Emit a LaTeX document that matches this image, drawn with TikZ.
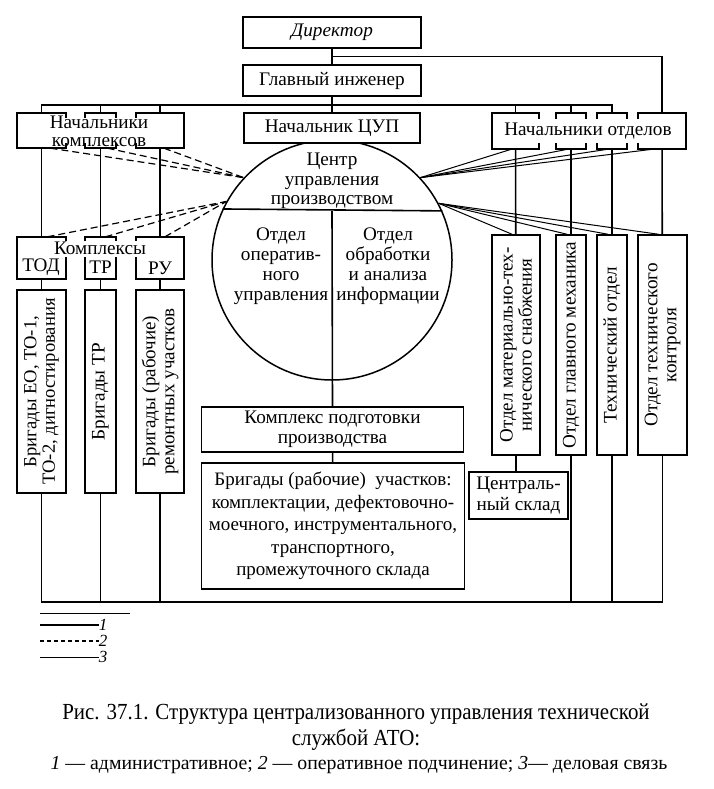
\documentclass[tikz,border=0pt]{standalone}
\usepackage{fontspec}
\setmainfont{Liberation Serif}
\newfontfamily\capfont[FakeStretch=0.91]{Liberation Serif}
\usetikzlibrary{calc}

\begin{document}
\begin{tikzpicture}[x=1pt,y=-1pt,
    blk/.style={draw,line width=1.5pt,fill=white,inner sep=0pt,align=center,
                font=\fontsize{19.2}{20.5}\selectfont},
    part/.style={inner sep=0pt,align=center,font=\fontsize{19.2}{19.5}\selectfont},
    adm/.style={line width=1.6pt},
    oper/.style={line width=1.2pt,dash pattern=on 7pt off 4pt},
    dl/.style={line width=1pt}]
  \useasboundingbox (0,0) rectangle (713,789);

    % circle of the centre, drawn first
    \node[circle,draw,line width=1.5pt,minimum size=240pt,inner sep=0pt] (cu) at (332,260) {};
    \draw[adm] (cu.155.38) -- (cu.24.62);
    \node[part,font=\fontsize{19.2}{19.5}\selectfont] (cut) at (332,181) {Центр\\управления\\производством};
    \node[part,font=\fontsize{19.2}{20}\selectfont] (cul) at (281,266) {Отдел\\оператив-\\ного\\управления};
    \node[part,font=\fontsize{19.2}{20}\selectfont] (cur) at (388,266) {Отдел\\обработки\\и анализа\\информации};

    % top of the tree
    \node[blk,minimum width=178pt,minimum height=31pt] (dir) at (332,32.5) {\textit{Директор}};
    \node[blk,minimum width=178pt,minimum height=31pt] (gi) at (332,80.5) {Главный инженер};
    \node[blk,minimum width=176pt,minimum height=30pt] (cup) at (332,128) {Начальник ЦУП};

    % chiefs of the complexes
    \node[minimum width=49pt,minimum height=35pt,inner sep=0pt] (k1) at (41.5,130.5) {};
    \node[minimum width=31pt,minimum height=35pt,inner sep=0pt] (k2) at (100.5,130.5) {};
    \node[minimum width=48pt,minimum height=35pt,inner sep=0pt] (k3) at (160,130.5) {};
    \draw[adm] ([yshift=-5pt]k1.north east) -- (k1.north east) -- (k1.north west)
          -- (k1.south west) -- (k1.south east) -- ([yshift=5pt]k1.south east);
    \draw[adm] ([yshift=-5pt]k2.north west) -- (k2.north west) -- (k2.north east) -- ([yshift=-5pt]k2.north east);
    \draw[adm] ([yshift=5pt]k2.south west) -- (k2.south west) -- (k2.south east) -- ([yshift=5pt]k2.south east);
    \draw[adm] ([yshift=-5pt]k3.north west) -- (k3.north west) -- (k3.north east)
          -- (k3.south east) -- (k3.south west) -- ([yshift=5pt]k3.south west);
    \node[part,font=\fontsize{19.2}{18}\selectfont] (kt) at (99,131) {Начальники\\комплексов};

    % complexes
    \node[minimum width=49pt,minimum height=42pt,inner sep=0pt] (kx1) at (41.5,258) {};
    \node[minimum width=31pt,minimum height=42pt,inner sep=0pt] (kx2) at (100.5,258) {};
    \node[minimum width=48pt,minimum height=42pt,inner sep=0pt] (kx3) at (160,258) {};
    \draw[adm] ([yshift=-4pt]kx1.north east) -- (kx1.north east) -- (kx1.north west)
          -- (kx1.south west) -- (kx1.south east) -- ([yshift=22pt]kx1.south east);
    \draw[adm] ([yshift=-4pt]kx2.north west) -- (kx2.north west) -- (kx2.north east) -- ([yshift=-4pt]kx2.north east);
    \draw[adm] ([yshift=22pt]kx2.south west) -- (kx2.south west) -- (kx2.south east) -- ([yshift=22pt]kx2.south east);
    \draw[adm] ([yshift=-4pt]kx3.north west) -- (kx3.north west) -- (kx3.north east)
          -- (kx3.south east) -- (kx3.south west) -- ([yshift=22pt]kx3.south west);
    \node[part] (kxt) at (100,248) {Комплексы};
    \node[part] (kx1t) at (41,267) {ТОД};
    \node[part] (kx2t) at (100.5,267) {ТР};
    \node[part] (kx3t) at (160,268) {РУ};

    % brigades of the complexes
    \node[blk,minimum width=49pt,minimum height=203pt] (b1) at (41.5,391.5) {};
    \node[blk,minimum width=31pt,minimum height=203pt] (b2) at (100.5,391.5) {};
    \node[blk,minimum width=48pt,minimum height=203pt] (b3) at (160,391.5) {};
    \node[part,rotate=90,font=\fontsize{18.6}{18.5}\selectfont] (b1t) at (b1) {Бригады ЕО, ТО-1,\\ТО-2, дигностирования};
    \node[part,rotate=90] (b2t) at (b2) {Бригады ТР};
    \node[part,rotate=90,font=\fontsize{19}{19}\selectfont] (b3t) at (b3) {Бригады (рабочие)\\ремонтных участков};

    % chiefs of the departments
    \node[minimum width=47pt,minimum height=36pt,inner sep=0pt] (d1) at (515.5,131) {};
    \node[minimum width=30pt,minimum height=36pt,inner sep=0pt] (d2) at (571,131) {};
    \node[minimum width=30pt,minimum height=36pt,inner sep=0pt] (d3) at (612,131) {};
    \node[minimum width=48pt,minimum height=36pt,inner sep=0pt] (d4) at (662,131) {};
    \draw[adm] ([yshift=-6pt]d1.north east) -- (d1.north east) -- (d1.north west)
          -- (d1.south west) -- (d1.south east) -- ([yshift=6pt]d1.south east);
    \draw[adm] ([yshift=-6pt]d2.north west) -- (d2.north west) -- (d2.north east) -- ([yshift=-6pt]d2.north east);
    \draw[adm] ([yshift=6pt]d2.south west) -- (d2.south west) -- (d2.south east) -- ([yshift=6pt]d2.south east);
    \draw[adm] ([yshift=-6pt]d3.north west) -- (d3.north west) -- (d3.north east) -- ([yshift=-6pt]d3.north east);
    \draw[adm] ([yshift=6pt]d3.south west) -- (d3.south west) -- (d3.south east) -- ([yshift=6pt]d3.south east);
    \draw[adm] ([yshift=-6pt]d4.north west) -- (d4.north west) -- (d4.north east)
          -- (d4.south east) -- (d4.south west) -- ([yshift=6pt]d4.south west);
    \node[part] (dt) at (588,131) {Начальники отделов};

    % departments
    \node[blk,minimum width=48pt,minimum height=220pt] (m1) at (516,345) {};
    \node[blk,minimum width=30pt,minimum height=220pt] (m2) at (571,345) {};
    \node[blk,minimum width=30pt,minimum height=220pt] (m3) at (612,345) {};
    \node[blk,minimum width=49pt,minimum height=220pt] (m4) at (662.5,345) {};
    \node[part,rotate=90,font=\fontsize{19}{19}\selectfont] (m1t) at (m1) {Отдел материально-тех-\\нического снабжения};
    \node[part,rotate=90] (m2t) at (m2) {Отдел главного механика};
    \node[part,rotate=90] (m3t) at (m3) {Технический отдел};
    \node[part,rotate=90,font=\fontsize{19.2}{19}\selectfont] (m4t) at (m4) {Отдел технического\\контроля};
    \node[blk,minimum width=99pt,minimum height=47pt] (skl) at (518.5,495.5) {Централь-\\ный склад};

    % preparation of production
    \node[blk,minimum width=262pt,minimum height=45pt] (kp) at (332.5,429.5) {Комплекс подготовки\\производства};
    \node[blk,minimum width=263pt,minimum height=126pt,font=\fontsize{19}{22.5}\selectfont] (br) at (333,526)
          {Бригады (рабочие)\ \ участков:\\комплектации, дефектовочно-\\моечного, инструментального,\\транспортного,\\промежуточного склада};

    % administrative links
    \draw[adm] (dir) -- (gi);
    \draw[adm] (gi) -- (cup);
    \coordinate (dj) at ($(dir.south)!0.5!(gi.north)$);
    \draw[adm] (dj) -| (d4.north);
    \draw[adm] (k1.north) -- ++(0,-8) -| (d3.north);
    \draw[adm] (k2.north) -- ++(0,-8);
    \draw[adm] (k3.north) -- ++(0,-8);
    \draw[adm] (d1.north) -- ++(0,-8);
    \draw[adm] (d2.north) -- ++(0,-8);
    \draw[adm] (k1) -- (kx1);
    \draw[adm] (k2) -- (kx2);
    \draw[adm] (k3) -- (kx3);
    \draw[adm] (kx1) -- (b1);
    \draw[adm] (kx2) -- (b2);
    \draw[adm] (kx3) -- (b3);
    \draw[adm] (d1) -- (m1);
    \draw[adm] (d2) -- (m2);
    \draw[adm] (d3) -- (m3);
    \draw[adm] (d4) -- (m4);
    \draw[adm] (m1.south) -- (m1.south |- skl.north);
    \draw[adm] (cu.center |- cu.24.62) -- (kp.north);
    \draw[adm] (kp) -- (br);
    \coordinate (bus) at (0,602);
    \draw[adm] (b1.south) |- (m4.south |- bus) -- (m4.south);
    \draw[adm] (b2.south) -- (b2.south |- bus);
    \draw[adm] (b3.south) -- (b3.south |- bus);
    \draw[adm] (m2.south) -- (m2.south |- bus);
    \draw[adm] (m3.south) -- (m3.south |- bus);

    % operative links
    \draw[oper] ([xshift=9pt]k1.south) -- (cu.137);
    \draw[oper] ([xshift=7pt]k2.south) -- (cu.137);
    \draw[oper] ([xshift=4pt]k3.south) -- (cu.137);
    \draw[oper] ([xshift=6pt]kx1.north) -- (cu.151.5);
    \draw[oper] ([xshift=5pt]kx2.north) -- (cu.151.5);
    \draw[oper] ([xshift=5pt]kx3.north) -- (cu.151.5);

    % business links
    \draw[dl] ([xshift=-4pt]d1.south) -- (cu.43);
    \draw[dl] ([xshift=-3pt]d2.south) -- (cu.43);
    \draw[dl] ([xshift=-4pt]d3.south) -- (cu.43);
    \draw[dl] ([xshift=-9pt]d4.south) -- (cu.43);
    \draw[dl] ([xshift=-4pt]m1.north) -- (cu.28);
    \draw[dl] ([xshift=-4pt]m2.north) -- (cu.28);
    \draw[dl] ([xshift=-4pt]m3.north) -- (cu.28);
    \draw[dl] ([xshift=-4pt]m4.north) -- (cu.28);

    % legend
    \coordinate (lg0) at (40,613);
    \coordinate (lg0e) at (130,613);
    \draw[dl] (lg0) -- (lg0e);
    \node[part,font=\itshape\fontsize{17}{17}\selectfont] (lg1) at (103,625) {1};
    \node[part,font=\itshape\fontsize{17}{17}\selectfont] (lg2) at (103,641) {2};
    \node[part,font=\itshape\fontsize{17}{17}\selectfont] (lg3) at (103,657) {3};
    \coordinate (lga) at (40,625);
    \coordinate (lgb) at (40,641);
    \coordinate (lgc) at (40,657);
    \draw[adm,line width=2.2pt] (lga) -- (lg1.west);
    \draw[oper,dash pattern=on 4pt off 3pt] (lgb) -- (lg2.west);
    \draw[dl] (lgc) -- (lg3.west);

    % caption
    \node[font=\capfont\fontsize{23}{25.5}\selectfont,align=center] (cap) at (356,727)
          {Рис. 37.1. Структура централизованного управления технической\\службой АТО:};
    \node[font=\fontsize{19.8}{20}\selectfont] (cap2) at (359,765)
          {\textit{1} — административное; \textit{2} — оперативное подчинение; \textit{3}— деловая связь};
\end{tikzpicture}
\end{document}
